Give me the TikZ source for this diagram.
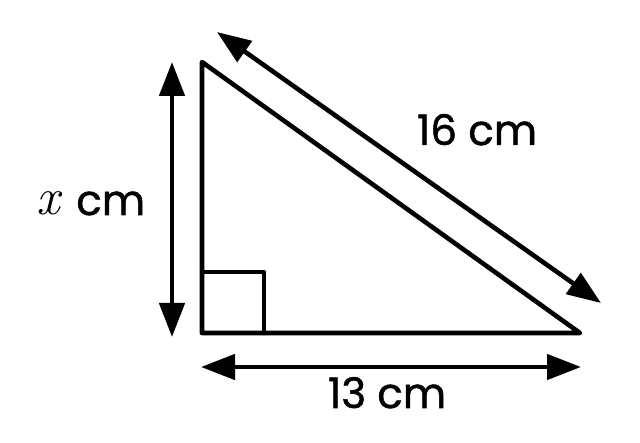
\documentclass[tikz,border=0pt]{standalone}
\usepackage{fontspec}
\setmainfont{Poppins}[FakeBold=1.2]
\newfontfamily\lmrfont{Latin Modern Roman}
\usetikzlibrary{arrows.meta}
\begin{document}
\begin{tikzpicture}[x=1pt,y=-1pt,
  edge/.style={line width=4.6pt,line join=round,line cap=round},
  dimarrow/.style={line width=4.6pt,{Triangle[width=25pt,length=34pt]}-{Triangle[width=25pt,length=34pt]}},
  lbl/.style={font=\fontsize{42}{46}\selectfont,anchor=base,inner sep=0pt}]
\useasboundingbox (0,0) rectangle (640,443);
\coordinate (A) at (202,62);
\coordinate (B) at (202,333);
\coordinate (C) at (580,333);
\coordinate (S1) at (202,272);
\coordinate (S2) at (264,272);
\coordinate (S3) at (264,333);
\draw[edge] (A) -- (B) -- (C) -- cycle;
\draw[edge] (S1) -- (S2) -- (S3);
\coordinate (V1) at (172,62);
\coordinate (V2) at (172,337);
\coordinate (H1) at (201,367);
\coordinate (H2) at (581,367);
\coordinate (D1) at (217,32);
\coordinate (D2) at (601,303);
\draw[dimarrow] (V1) -- (V2);
\draw[dimarrow] (H1) -- (H2);
\draw[dimarrow] (D1) -- (D2);
\node[lbl] (lx) at (91,215) {{\lmrfont\itshape\fontsize{52}{56}\selectfont x}\hspace{16pt}cm};
\node[lbl] (l16) at (477,145) {16 cm};
\node[lbl] (l13) at (387,408) {13 cm};
\end{tikzpicture}
\end{document}
